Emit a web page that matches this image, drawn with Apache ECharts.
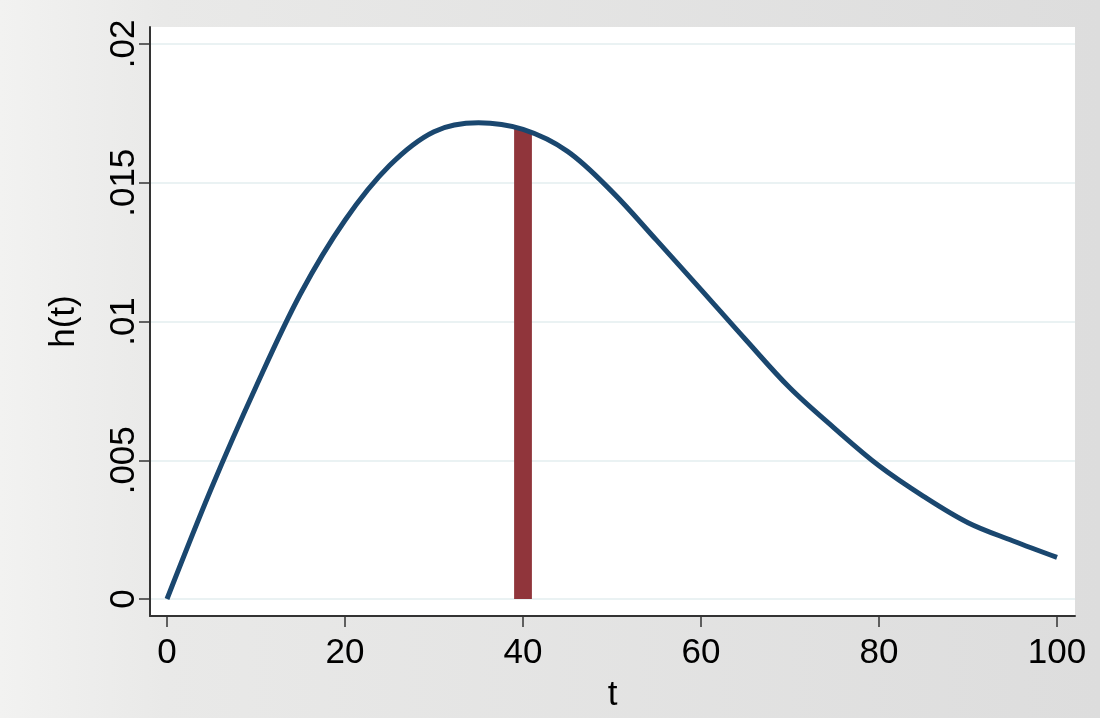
<!DOCTYPE html>
<html>
<head>
<meta charset="utf-8">
<script src="https://cdn.jsdelivr.net/npm/echarts@6/dist/echarts.min.js"></script>
<style>
  html, body { margin: 0; padding: 0; }
  #main { width: 1100px; height: 718px; }
</style>
</head>
<body>
<div id="main"></div>
<script>
// hazard curve h(t)
var tValues = [0, 5, 10, 15, 20, 25, 30, 35, 40, 45, 50, 55, 60, 65, 70, 75, 80, 85, 90, 95, 100];
var hValues = [0, 0.0040, 0.00765, 0.0110, 0.01365, 0.01562, 0.01684, 0.01716, 0.01692, 0.01613, 0.01468,
               0.01293, 0.01115, 0.00935, 0.0076, 0.00615, 0.0048, 0.0037, 0.00275, 0.0021, 0.0015];

// shaded band between t=39 and t=41
var bandT = [39, 41];
var bandH = [0.01703, 0.01682];

var xTicks = [0, 20, 40, 60, 80, 100];
var yTicks = [0, 0.005, 0.01, 0.015, 0.02];

var font = 'Liberation Sans, Arial, sans-serif';

var chart = echarts.init(document.getElementById('main'));

function pairs(xs, ys) {
  return xs.map(function (x, i) { return [x, ys[i]]; });
}

var option = {
  backgroundColor: {
    type: 'linear', x: 0, y: 0, x2: 1, y2: 0,
    colorStops: [
      { offset: 0, color: '#f2f2f1' },
      { offset: 0.15, color: '#e9e9e8' },
      { offset: 1, color: '#dddddd' }
    ]
  },
  animation: false,
  grid: {
    left: 150,
    right: 25,
    top: 27,
    bottom: 101,
    show: true,
    backgroundColor: '#ffffff',
    borderWidth: 0
  },
  xAxis: {
    type: 'value',
    min: -1.91,
    max: 102.02,
    name: 't',
    nameLocation: 'middle',
    nameGap: 62,
    nameTextStyle: { fontFamily: font, fontSize: 35, color: '#000' },
    axisLine: { show: true, onZero: false, lineStyle: { color: '#333', width: 2 } },
    axisTick: { show: true, length: 11, customValues: xTicks, lineStyle: { color: '#333', width: 1.5 } },
    axisLabel: {
      customValues: xTicks,
      margin: 20,
      fontFamily: font,
      fontSize: 35,
      color: '#000'
    },
    splitLine: { show: false }
  },
  yAxis: {
    type: 'value',
    min: -0.000612,
    max: 0.020612,
    name: 'h(t)',
    nameLocation: 'middle',
    nameRotate: 90,
    nameGap: 68,
    nameTextStyle: { fontFamily: font, fontSize: 35, color: '#000' },
    axisLine: { show: true, onZero: false, lineStyle: { color: '#333', width: 2 } },
    axisTick: { show: true, length: 11, customValues: yTicks, lineStyle: { color: '#333', width: 1.5 } },
    axisLabel: {
      customValues: yTicks,
      rotate: 90,
      margin: 8,
      fontFamily: font,
      fontSize: 35,
      color: '#000',
      formatter: function (v) { return String(v).replace(/^0\./, '.'); }
    },
    splitLine: { show: true, lineStyle: { color: '#eaf2f3', width: 2 } }
  },
  series: [
    {
      name: 'band',
      type: 'line',
      data: pairs(bandT, bandH),
      symbol: 'none',
      lineStyle: { width: 0, opacity: 0 },
      areaStyle: { color: '#90353b', opacity: 1 },
      z: 2
    },
    {
      name: 'h(t)',
      type: 'line',
      data: pairs(tValues, hValues),
      smooth: 0.35,
      symbol: 'none',
      lineStyle: { color: '#1a476f', width: 5 },
      z: 3
    }
  ]
};

chart.setOption(option);
</script>
</body>
</html>
